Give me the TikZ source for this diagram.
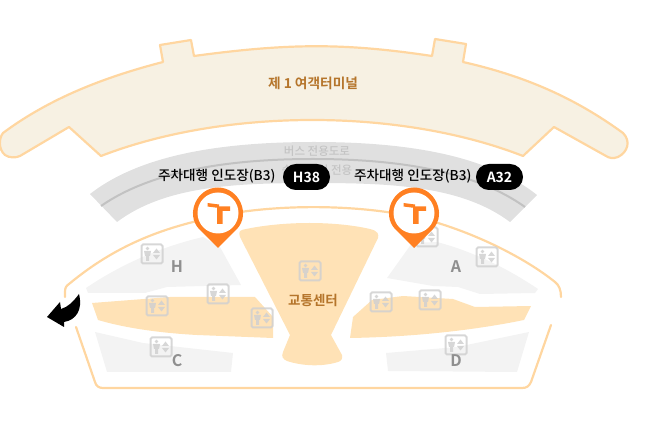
\documentclass[tikz,border=0pt]{standalone}
\usepackage{fontspec}
\setmainfont{Noto Sans CJK KR}
\newfontfamily\krbold{Noto Sans CJK KR Bold}
\newfontfamily\krmed{Noto Sans CJK KR Medium}
\definecolor{termfill}{HTML}{F7F1E3}
\definecolor{linepeach}{HTML}{FFD6A0}
\definecolor{roadgray}{HTML}{E0E0E0}
\definecolor{roadline}{HTML}{C2C2C2}
\definecolor{roadtext}{HTML}{C4C4C4}
\definecolor{band}{HTML}{FFE2B6}
\definecolor{zone}{HTML}{F3F3F3}
\definecolor{pinorange}{HTML}{FF8022}
\definecolor{brownlabel}{HTML}{B5752B}
\definecolor{zonelabel}{HTML}{8F8F8F}
\definecolor{icongray}{HTML}{D0D0D0}
\tikzset{
  peachline/.style={draw=linepeach,line width=2.2pt,line join=round,line cap=round},
  zonearea/.style={fill=zone},
  bandarea/.style={fill=band},
  brownfont/.style={text=brownlabel,font=\krbold\fontsize{13.7}{14}\selectfont,inner sep=0pt},
  zonefont/.style={text=zonelabel,font=\krbold\fontsize{16}{16}\selectfont,inner sep=0pt},
  roadfont/.style={text=roadtext,font=\krmed\fontsize{11.5}{12}\selectfont,inner sep=0pt},
  valetfont/.style={text=black,font=\krmed\fontsize{13.6}{14}\selectfont,inner sep=0pt},
  gatepill/.style={fill=black,text=white,rounded corners=12.9pt,minimum width=47pt,minimum height=26pt,inner sep=0pt,font=\krbold\fontsize{14}{14}\selectfont},
  lifticon/.pic={
    \begin{scope}[opacity=.85]
    \draw[draw=icongray,line width=2pt,rounded corners=1.5pt] (-10.5,-9.5) rectangle (10.5,9.5);
    \fill[icongray] (-4.5,-5.5) circle (1.9);
    \fill[icongray] (-8,-3) -- (-1,-3) -- (-2,2) -- (-3,2) -- (-3,7) -- (-6,7) -- (-6,2) -- (-7,2) -- cycle;
    \fill[icongray] (1,-1) -- (4.5,-5.5) -- (8,-1) -- cycle;
    \fill[icongray] (1,1) -- (4.5,5.5) -- (8,1) -- cycle;
    \end{scope}
  },
  mappin/.pic={
    \fill[pinorange] (0,35) -- (-19,16) .. controls (-33,1) and (-21,-25.5) .. (0,-25.5) .. controls (21,-25.5) and (33,1) .. (19,16) -- cycle;
    \fill[white] (0,0) circle (20.5);
    \fill[pinorange] (-10.5,-10) -- (1,-8.5) -- (1,-5) -- (-10.5,-6.5) -- cycle;
    \fill[pinorange] (-1,-6.5) -- (12,-6.5) -- (12,-2) -- (4.5,-2) -- (4.5,11) -- (-1,11) -- cycle;
  }
}
\begin{document}
\begin{tikzpicture}[x=1pt,y=-1pt]
\useasboundingbox (0,0) rectangle (662,427);
% terminal
\filldraw[fill=termfill,peachline]
  (3,133) .. controls (50,98) and (105,77) .. (163,62) -- (160,45) -- (191,40) -- (194,56)
  .. controls (290,43) and (345,43) .. (432,56) -- (435,39) -- (466,44) -- (463,62)
  .. controls (525,76) and (575,98) .. (623,133)
  .. controls (631,141) and (628,152) .. (618,157) .. controls (613,159) and (609,158) .. (606,156)
  -- (554,127) -- (523,156)
  .. controls (400,108) and (225,108) .. (101,156) -- (69,127) -- (20,156)
  .. controls (16,158) and (9,158) .. (5,155) .. controls (-2,149) and (-1,138) .. (3,133) -- cycle;
% road
\fill[roadgray] (90,194) .. controls (140,155) and (220,142) .. (314,142)
  .. controls (407,142) and (487,155) .. (537,195)
  -- (510,222) .. controls (462,186) and (392,183) .. (313.5,183)
  .. controls (235,183) and (165,186) .. (117,222) -- cycle;
\draw[roadline,line width=2pt] (101,206) .. controls (150,172) and (225,159) .. (313,159)
  .. controls (401,159) and (476,172) .. (525,207);
\node[roadfont] (bus) at (317,151) {버스 전용도로};
\node[roadfont] (taxi) at (317,171) {승용/택시 전용};
% outer line
\draw[peachline] (65,297) -- (65,292) .. controls (65,288) and (66,286) .. (69,284)
  .. controls (110,250) and (150,233) .. (193,222)
  .. controls (260,202) and (370,202) .. (438,223)
  .. controls (480,236) and (525,258) .. (555,282)
  .. controls (559,285) and (561,290) .. (561,297);
\draw[peachline] (76,327) -- (95,382) .. controls (96,386) and (99,388) .. (103,388)
  -- (522,388) .. controls (527,388) and (529,386) .. (531,382) -- (551,325);
% zones
\fill[zonearea] (86,288) .. controls (120,265) and (160,247) .. (203,237) -- (220,247) -- (241,285) -- (167,287) -- (145,293) -- (88,293) -- cycle;
\fill[zonearea] (95,332) -- (143,343) -- (233,353) -- (231,372) -- (107,372) -- cycle;
\fill[zonearea] (387,278) -- (412,243) -- (437,242) .. controls (475,252) and (510,270) .. (538,289) -- (535,293) -- (480,294) -- (458,287) -- (433,286) -- cycle;
\fill[zonearea] (386,353) -- (457,347) -- (529,332) -- (517,372) -- (388,371) -- cycle;
% bands
\fill[bandarea] (92,303) -- (170,297) -- (255,297) -- (273,317) -- (273,338) -- (197,335) .. controls (160,333) and (125,328) .. (98,320) -- cycle;
\fill[bandarea] (353,317) -- (372,300) -- (403,296) -- (453,299) -- (475,307) -- (531,306) -- (524,320) .. controls (470,331) and (410,337) .. (350,338) -- cycle;
\fill[bandarea] (240,237) .. controls (238,231) and (240,230) .. (246,229)
  .. controls (285,221) and (335,221) .. (370,229)
  .. controls (378,231) and (379,234) .. (378,238) -- (331,335) -- (342,355)
  .. controls (343,359) and (341,361) .. (338,362)
  .. controls (322,367) and (302,366) .. (287,361)
  .. controls (283,359) and (281,357) .. (283,352) -- (290,335) -- cycle;
% icons
\pic at (152,254) {lifticon};
\pic at (218,294) {lifticon};
\pic at (157,306) {lifticon};
\pic at (262,318) {lifticon};
\pic at (161,347) {lifticon};
\pic at (310,271) {lifticon};
\pic at (381,302) {lifticon};
\pic at (430,300) {lifticon};
\pic at (456,345) {lifticon};
\pic at (487,257) {lifticon};
\pic at (427,237) {lifticon};
% arrow
\fill[black] (79,294) .. controls (83,310) and (76,320) .. (64,322) -- (64,327) -- (47,317)
  -- (60,302) -- (61,309) .. controls (68,307) and (73,302) .. (79,294) -- cycle;
% labels
\node[brownfont] (t1) at (313,83) {제 1 여객터미널};
\node[brownfont,font=\krbold\fontsize{13.5}{14}\selectfont] (tc) at (313,300) {교통센터};
\node[zonefont] (zh) at (177,267) {H};
\node[zonefont] (za) at (456,267) {A};
\node[zonefont] (zc) at (177,361) {C};
\node[zonefont] (zd) at (456,361) {D};
% pins
\pic at (218,213) {mappin};
\pic at (414,213) {mappin};
% valet
\node[valetfont,anchor=west] (v1) at (158,176.5) {주차대행 인도장(B3)};
\node[valetfont,anchor=west] (v2) at (354,176.5) {주차대행 인도장(B3)};
\node[gatepill] (h38) at (306.5,177) {H38};
\node[gatepill] (a32) at (499.5,177) {A32};
\end{tikzpicture}
\end{document}
